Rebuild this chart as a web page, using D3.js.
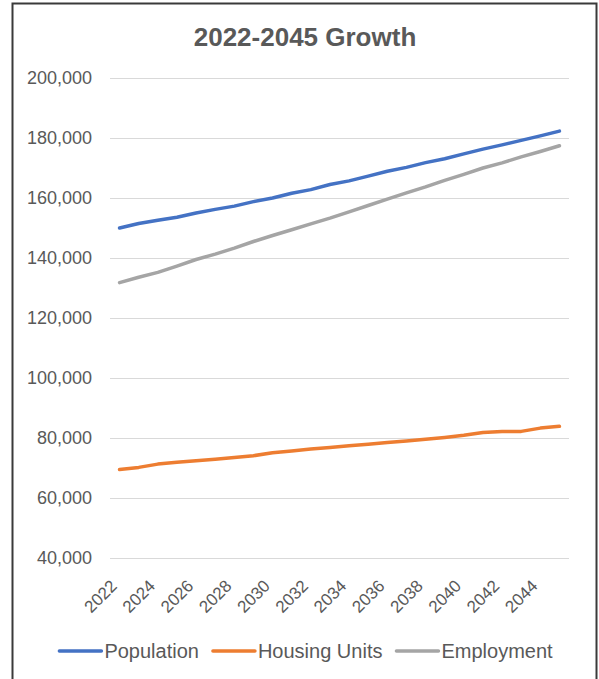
<!DOCTYPE html>
<html>
<head>
<meta charset="utf-8">
<script src="https://cdn.jsdelivr.net/npm/d3@7"></script>
<style>
    body { margin: 0; background: #fff; }
    #chart { width: 599px; height: 679px; }
    text { font-family: "Liberation Sans", Arial, sans-serif; }
</style>
</head>
<body>
<div id="chart"></div>
<script>
// values
const years = [2022, 2023, 2024, 2025, 2026, 2027, 2028, 2029, 2030, 2031, 2032, 2033,
    2034, 2035, 2036, 2037, 2038, 2039, 2040, 2041, 2042, 2043, 2044, 2045];
const population = [150000, 151500, 152600, 153600, 155000, 156200, 157300, 158800, 160000, 161600, 162800, 164500,
    165700, 167300, 168900, 170200, 171800, 173100, 174700, 176300, 177700, 179200, 180700, 182300];
const housingUnits = [69500, 70200, 71300, 71900, 72400, 72900, 73500, 74100, 75100, 75700, 76300, 76800,
    77400, 77900, 78500, 79000, 79600, 80200, 80900, 81800, 82200, 82200, 83300, 83900];
const employment = [131800, 133600, 135200, 137300, 139500, 141300, 143300, 145500, 147500, 149400, 151400, 153300,
    155400, 157500, 159600, 161700, 163700, 165900, 167900, 170000, 171700, 173700, 175500, 177400];
const yTicks = [40000, 60000, 80000, 100000, 120000, 140000, 160000, 180000, 200000];
const seriesNames = ["Population", "Housing Units", "Employment"];
const seriesColors = ["#4472C4", "#ED7D31", "#A5A5A5"];

class GrowthVis {
    constructor(parentElement) {
        this.parentElement = parentElement;
        this.series = [
            {name: seriesNames[0], color: seriesColors[0], values: population},
            {name: seriesNames[1], color: seriesColors[1], values: housingUnits},
            {name: seriesNames[2], color: seriesColors[2], values: employment}
        ];
        this.initVis();
    }

    initVis() {
        let vis = this;

        vis.width = 599;
        vis.height = 679;
        vis.plot = {left: 110, right: 569, top: 78, bottom: 558};

        vis.svg = d3.select(vis.parentElement).append("svg")
            .attr("width", vis.width)
            .attr("height", vis.height);

        // chart frame
        vis.svg.append("rect")
            .attr("x", 12.5).attr("y", 3.5)
            .attr("width", 584).attr("height", 700)
            .attr("fill", "#fff")
            .attr("stroke", "#3a3a3a")
            .attr("stroke-width", 2);

        vis.svg.append("text")
            .attr("x", 305).attr("y", 46)
            .attr("text-anchor", "middle")
            .attr("font-size", 26)
            .attr("font-weight", "bold")
            .attr("fill", "#595959")
            .text("2022-2045 Growth");

        vis.x = d3.scalePoint()
            .domain(years)
            .range([vis.plot.left, vis.plot.right])
            .padding(0.5);

        vis.y = d3.scaleLinear()
            .domain([40000, 200000])
            .range([vis.plot.bottom, vis.plot.top]);

        // gridlines + y labels
        vis.yAxis = vis.svg.append("g")
            .attr("transform", `translate(${vis.plot.left},0)`)
            .call(d3.axisLeft(vis.y)
                .tickValues(yTicks)
                .tickSize(-(vis.plot.right - vis.plot.left))
                .tickPadding(18)
                .tickFormat(d3.format(",")));
        vis.yAxis.select(".domain").remove();
        vis.yAxis.selectAll("line").attr("stroke", "#d9d9d9");
        vis.yAxis.selectAll("text")
            .attr("font-size", 18)
            .attr("font-family", null)
            .attr("fill", "#595959");

        // x labels, every other year, rotated
        vis.xAxis = vis.svg.append("g")
            .attr("transform", `translate(0,${vis.plot.bottom})`)
            .call(d3.axisBottom(vis.x)
                .tickValues(years.filter((d, i) => i % 2 === 0))
                .tickSize(0));
        vis.xAxis.select(".domain").remove();
        vis.xAxis.selectAll("text")
            .attr("font-size", 17)
            .attr("font-family", null)
            .attr("fill", "#595959")
            .attr("text-anchor", "end")
            .attr("dy", null)
            .attr("y", 0)
            .attr("transform", "translate(-2,29) rotate(-45)");

        vis.wrangleData();
    }

    wrangleData() {
        let vis = this;
        vis.lineData = vis.series.map(s => ({
            name: s.name,
            color: s.color,
            points: years.map((yr, i) => ({year: yr, value: s.values[i]}))
        }));
        vis.updateVis();
    }

    updateVis() {
        let vis = this;

        let line = d3.line()
            .x(d => vis.x(d.year))
            .y(d => vis.y(d.value));

        vis.svg.append("g")
            .selectAll("path")
            .data(vis.lineData)
            .join("path")
            .attr("d", d => line(d.points))
            .attr("fill", "none")
            .attr("stroke", d => d.color)
            .attr("stroke-width", 3.5)
            .attr("stroke-linejoin", "round")
            .attr("stroke-linecap", "round");

        // legend, centered under the chart
        let legend = vis.svg.append("g");
        let items = legend.selectAll("g")
            .data(vis.lineData)
            .join("g");
        items.append("line")
            .attr("x1", 0).attr("x2", 42)
            .attr("y1", 0).attr("y2", 0)
            .attr("stroke", d => d.color)
            .attr("stroke-width", 3.5)
            .attr("stroke-linecap", "round");
        items.append("text")
            .attr("x", 45).attr("y", 7)
            .attr("font-size", 20)
            .attr("fill", "#595959")
            .text(d => d.name);

        let offset = 0;
        items.each(function() {
            let w = 45 + this.querySelector("text").getComputedTextLength();
            d3.select(this).attr("transform", `translate(${offset},0)`);
            offset += w + 14;
        });
        let total = offset - 14;
        legend.attr("transform", `translate(${306 - total / 2},651)`);
    }
}

new GrowthVis(document.getElementById("chart"));
</script>
</body>
</html>
